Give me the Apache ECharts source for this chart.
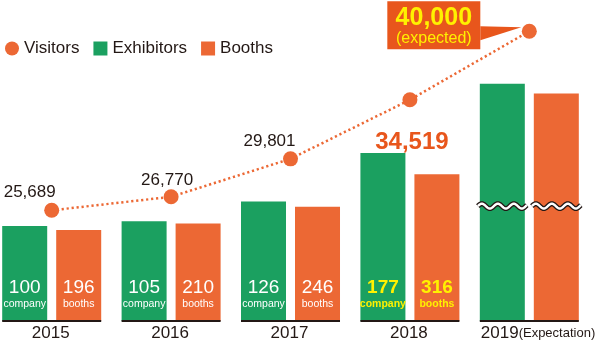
<!DOCTYPE html>
<html><head><meta charset="utf-8">
<script src="https://cdn.jsdelivr.net/npm/echarts@6/dist/echarts.min.js"></script>
<style>html,body{margin:0;padding:0;background:#fff}#c{width:600px;height:341px}</style>
</head><body><div id="c"></div>
<script>
// ---- data ----
const years = ['2015', '2016', '2017', '2018', '2019'];
const expected = [false, false, false, false, true];
const visitors = [25689, 26770, 29801, 34519, 40000];
// 2019 bars carry no number in the picture; heights estimated (bars are drawn broken)
const exhibitors = [100, 105, 126, 177, 250];
const booths = [196, 210, 246, 316, 490];
const exhibitorUnit = 'company';
const boothUnit = 'booths';
const expectationNote = '(Expectation)';
const expectedNote = '(expected)';
const highlightIndex = 3;
const breakAt = 121; // position of the axis-break wave, on the exhibitors scale

// ---- styles ----
const GREEN = '#1ba060', ORANGE = '#ec6834', CALLOUT = '#e8561c', DARK = '#231815', YELLOW = '#fff100';
const FONT = '"Liberation Sans", Arial, Helvetica, sans-serif';
const BAR_W = 45, BAR_GAP = 9;
const fmt = v => v.toLocaleString('en-US');

function barData(values, unit) {
  return values.map((v, i) => {
    const hi = i === highlightIndex;
    return {
      value: [i, v],
      label: {
        show: !expected[i],
        formatter: '{n|' + v + '}\n{u|' + unit + '}',
        rich: {
          n: { fontSize: 19, lineHeight: 20, color: hi ? YELLOW : '#fff', fontWeight: hi ? 'bold' : 'normal', fontFamily: FONT, align: 'center' },
          u: { fontSize: 10.5, lineHeight: 13, color: hi ? YELLOW : '#fff', fontWeight: hi ? 'bold' : 'normal', fontFamily: FONT, align: 'center' }
        }
      }
    };
  });
}

const visitorLabelStyles = [
  { offset: [-22, -18], fontSize: 17, color: DARK },
  { offset: [-4, -16], fontSize: 17, color: DARK },
  { offset: [-21, -18], fontSize: 17, color: DARK },
  { offset: [2, 43], fontSize: 24, color: CALLOUT, fontWeight: 'bold' },
  null
];

const option = {
  animation: false,
  textStyle: { fontFamily: FONT },
  legend: {
    left: 0, top: 35, itemWidth: 14, itemHeight: 14, itemGap: 14, selectedMode: false,
    textStyle: { fontSize: 17, color: DARK, fontFamily: FONT },
    data: [{ name: 'Visitors', icon: 'circle' }, { name: 'Exhibitors', icon: 'rect' }, { name: 'Booths', icon: 'rect' }]
  },
  grid: { left: 0, right: 0, top: 21, bottom: 20 },
  xAxis: { type: 'value', min: -0.433, max: 4.592, show: false },
  yAxis: [
    { type: 'value', min: 0, max: 316, show: false },
    { type: 'value', min: 0, max: 646, show: false },
    { type: 'value', min: 16844, max: 40817, show: false }
  ],
  series: [
    {
      name: 'Exhibitors', type: 'bar', yAxisIndex: 0, barWidth: BAR_W, barGap: (BAR_GAP / BAR_W * 100) + '%',
      itemStyle: { color: GREEN },
      label: { position: 'insideBottom', distance: 10 },
      data: barData(exhibitors, exhibitorUnit), z: 2
    },
    {
      name: 'Booths', type: 'bar', yAxisIndex: 1, barWidth: BAR_W, barGap: (BAR_GAP / BAR_W * 100) + '%',
      itemStyle: { color: ORANGE },
      label: { position: 'insideBottom', distance: 10 },
      data: barData(booths, boothUnit), z: 2
    },
    {
      // baseline segment and year label under each group
      type: 'custom', yAxisIndex: 0, z: 3, silent: true,
      data: years.map((_, i) => [i, 0]),
      renderItem: function (params, api) {
        const i = api.value(0);
        const c = api.coord([i, 0]);
        const half = BAR_W + BAR_GAP / 2;
        const label = expected[i]
          ? { type: 'text', style: { text: '{y|' + years[i] + '}{e|' + expectationNote + '}', x: c[0] - half + 1, y: c[1] + 12, align: 'left', verticalAlign: 'middle',
              rich: { y: { fontSize: 17, fill: DARK, fontFamily: FONT }, e: { fontSize: 13, fill: DARK, fontFamily: FONT } } } }
          : { type: 'text', style: { text: years[i], x: c[0] - 1, y: c[1] + 12, align: 'center', verticalAlign: 'middle', fill: DARK, font: '17px ' + FONT } };
        return {
          type: 'group', children: [
            { type: 'line', shape: { x1: c[0] - half, y1: c[1], x2: c[0] + half, y2: c[1] }, style: { stroke: DARK, lineWidth: 2 } },
            label
          ]
        };
      }
    },
    {
      // axis-break waves on the expected bars
      type: 'custom', yAxisIndex: 0, z: 4, silent: true,
      data: years.map((_, i) => i).filter(i => expected[i]).map(i => [i, breakAt]),
      renderItem: function (params, api) {
        const c = api.coord([api.value(0), api.value(1)]);
        const children = [];
        [c[0] - BAR_GAP / 2 - BAR_W / 2, c[0] + BAR_GAP / 2 + BAR_W / 2].forEach(cx => {
          const x0 = cx - BAR_W / 2 - 2, x1 = cx + BAR_W / 2 + 2;
          const pts = [];
          for (let x = x0; x <= x1 + 0.01; x += 0.5) {
            pts.push([x, c[1] - 2.4 * Math.sin((x - x0) / 16 * 2 * Math.PI)]);
          }
          children.push({ type: 'polyline', shape: { points: pts }, style: { stroke: DARK, lineWidth: 5, fill: null } });
          children.push({ type: 'polyline', shape: { points: pts }, style: { stroke: '#fff', lineWidth: 2.4, fill: null } });
        });
        return { type: 'group', children: children };
      }
    },
    {
      name: 'Visitors', type: 'line', yAxisIndex: 2, z: 6,
      symbol: 'circle', symbolSize: 15, showAllSymbol: true,
      itemStyle: { color: ORANGE },
      lineStyle: { color: ORANGE, width: 2.5, type: [2.2, 2.8] },
      data: visitors.map((v, i) => {
        const s = visitorLabelStyles[i];
        return {
          value: [i, v],
          label: s ? { show: true, position: 'inside', offset: s.offset, fontSize: s.fontSize, color: s.color, fontWeight: s.fontWeight || 'normal', fontFamily: FONT, formatter: fmt(v) } : { show: false }
        };
      })
    },
    {
      // callout for the expected visitors value
      type: 'custom', yAxisIndex: 2, z: 7, silent: true,
      data: years.map((_, i) => i).filter(i => expected[i]).map(i => [i, visitors[i]]),
      renderItem: function (params, api) {
        const p = api.coord([api.value(0), api.value(1)]);
        const left = p[0] - 142, right = p[0] - 49, top = p[1] - 30, bottom = p[1] + 18;
        return {
          type: 'group', children: [
            { type: 'polygon', shape: { points: [[right, p[1] - 5], [p[0] - 8, p[1] - 4], [right, p[1] + 9]] }, style: { fill: CALLOUT } },
            { type: 'rect', shape: { x: left, y: top, width: right - left, height: bottom - top }, style: { fill: CALLOUT } },
            { type: 'text', style: { text: fmt(api.value(1)), x: (left + right) / 2, y: p[1] - 13, align: 'center', verticalAlign: 'middle', fill: YELLOW, font: 'bold 25px ' + FONT } },
            { type: 'text', style: { text: expectedNote, x: (left + right) / 2, y: p[1] + 7, align: 'center', verticalAlign: 'middle', fill: YELLOW, font: '16px ' + FONT } }
          ]
        };
      }
    }
  ]
};

const chart = echarts.init(document.getElementById('c'), null, { renderer: 'canvas' });
chart.setOption(option);
</script>
</body></html>
